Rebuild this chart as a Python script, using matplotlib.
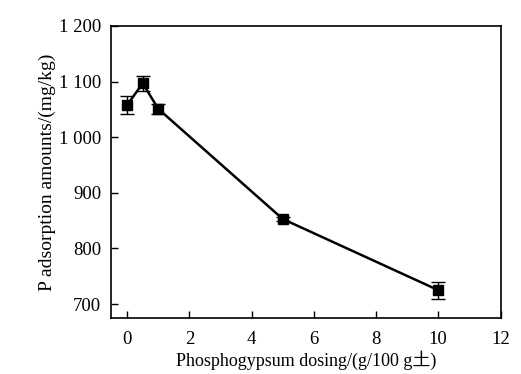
import matplotlib
matplotlib.use("Agg")
import matplotlib.pyplot as plt

plt.rcParams["font.family"] = ["Liberation Serif", "Noto Sans CJK SC"]

# phosphogypsum dosing (g/100 g soil) vs P adsorption (mg/kg)
dose = [0, 0.5, 1, 5, 10]
p_ads = [1058, 1097, 1051, 853, 725]
err = [16, 13, 9, 4, 15]
yticks = [700, 800, 900, 1000, 1100, 1200]
ylabels = ["700", "800", "900", "1 000", "1 100", "1 200"]

fig = plt.figure(figsize=(5.21, 3.74), dpi=100)
ax = fig.add_axes([111 / 521, 1 - 318 / 374, (500.5 - 111) / 521, (318 - 26) / 374])

ax.errorbar(dose, p_ads, yerr=err, color="black", lw=1.8, marker="s", ms=7,
            capsize=5, elinewidth=1.0, capthick=1.0)

ax.set_xlim(-0.52, 12)
ax.set_ylim(675, 1200)
ax.set_xticks(range(0, 13, 2))
ax.set_yticks(yticks)
ax.set_yticklabels(ylabels)
ax.tick_params(direction="in", length=5, width=1, labelsize=13.5, pad=7)
ax.tick_params(axis="x", pad=9)
for s in ax.spines.values():
    s.set_linewidth(1.2)

ax.set_xlabel("Phosphogypsum dosing/(g/100 g土)", fontsize=13, labelpad=2)
ax.set_ylabel("P adsorption amounts/(mg/kg)", fontsize=14, labelpad=2)

fig.savefig("out.png", dpi=100)
